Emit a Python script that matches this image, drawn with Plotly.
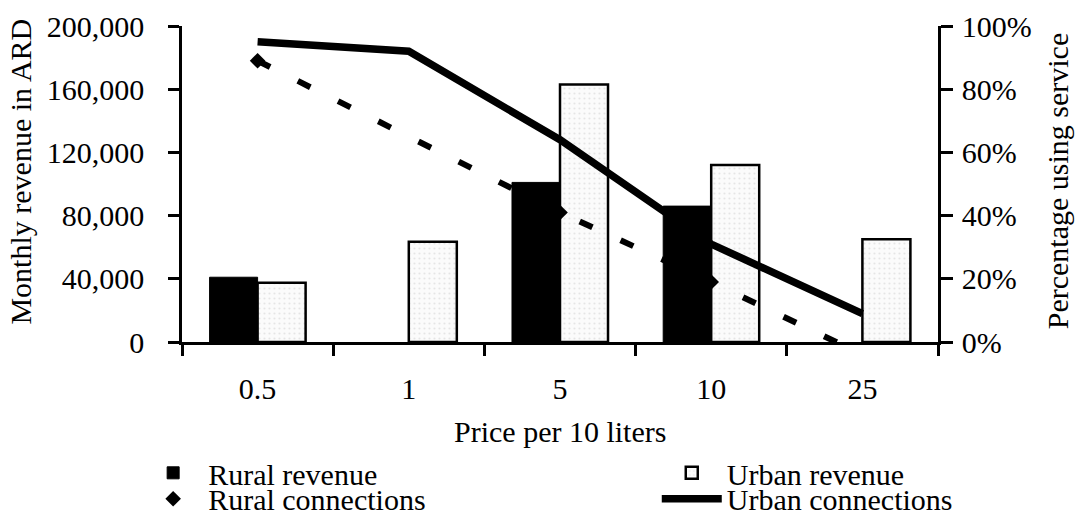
import plotly.graph_objects as go

# Price per 10 liters (category axis)
prices = ["0.5", "1", "5", "10", "25"]

# Monthly revenue in ARD
rural_revenue = [41000, None, 101000, 86000, None]
urban_revenue = [37500, 63500, 163000, 112000, 65000]

# Share of households using the service (%)
rural_connections = [89, None, 41, 19, -4]
urban_connections = [95, 92, 64, 31, 9]

revenue_ticks = [0, 40000, 80000, 120000, 160000, 200000]
share_ticks = [0, 20, 40, 60, 80, 100]
share_labels = [f"{v}%" for v in share_ticks]

FONT = "Liberation Serif"
INK = "black"

fig = go.Figure()

fig.add_trace(go.Bar(
    name="Rural revenue", x=prices, y=rural_revenue,
    marker=dict(color=INK, line=dict(color=INK, width=1)),
    legend="legend",
))
fig.add_trace(go.Bar(
    name="Urban revenue", x=prices, y=urban_revenue,
    marker=dict(color="#fbfbfb", line=dict(color=INK, width=2.5),
                pattern=dict(shape=".", fgcolor="#cfcfcf", bgcolor="#fbfbfb",
                             size=5, solidity=0.15)),
    legend="legend2",
))
fig.add_trace(go.Scatter(
    name="Rural connections (line)", x=prices, y=rural_connections,
    yaxis="y2", mode="lines", connectgaps=True, showlegend=False,
    line=dict(color=INK, width=6, dash="14px,31px"),
))
fig.add_trace(go.Scatter(
    name="Rural connections", x=prices, y=rural_connections,
    yaxis="y2", mode="markers",
    marker=dict(symbol="diamond", size=12, color=INK),
    legend="legend3",
))
fig.add_trace(go.Scatter(
    name="Urban connections", x=prices, y=urban_connections,
    yaxis="y2", mode="lines",
    line=dict(color=INK, width=7.5),
    legend="legend4",
))

tick_font = dict(family=FONT, size=30, color=INK)
legend_common = dict(
    orientation="v", xanchor="left", yanchor="middle",
    bgcolor="rgba(0,0,0,0)", borderwidth=0, itemwidth=60,
    font=dict(family=FONT, size=30, color=INK),
)
row1, row2 = -0.414, -0.496
col1, col2 = -0.058, 0.628

fig.update_layout(
    width=1075, height=517,
    margin=dict(l=182, r=137, t=26, b=175, autoexpand=False),
    paper_bgcolor="white", plot_bgcolor="white",
    font=dict(family=FONT, size=30, color=INK),
    barmode="group", bargap=0.365, bargroupgap=0,
    xaxis=dict(
        type="category", categoryorder="array", categoryarray=prices,
        range=[-0.5, 4.5], tickson="boundaries",
        ticks="outside", ticklen=11, tickwidth=2.5, tickcolor=INK,
        showline=True, linewidth=2.5, linecolor=INK, showgrid=False,
        tickfont=tick_font, ticklabelstandoff=18, anchor="y",
    ),
    xaxis2=dict(
        overlaying="x", anchor="y", side="bottom", type="linear",
        range=[-0.5, 4.5], tickvals=[-0.5, 0.5, 1.5, 2.5, 3.5, 4.5],
        ticks="inside", ticklen=11, tickwidth=2.5, tickcolor=INK,
        showticklabels=False, showline=False, showgrid=False, zeroline=False,
    ),
    yaxis=dict(
        range=[0, 200000], tickvals=revenue_ticks, tickformat=",d",
        ticks="outside", ticklen=11, tickwidth=2.5, tickcolor=INK,
        showline=True, linewidth=2.5, linecolor=INK,
        showgrid=False, zeroline=False, tickfont=tick_font,
        ticklabelstandoff=18,
    ),
    yaxis3=dict(
        overlaying="y", side="left", anchor="x",
        range=[0, 200000], tickvals=revenue_ticks,
        ticks="inside", ticklen=10, tickwidth=2.5, tickcolor=INK,
        showticklabels=False, showline=False, showgrid=False, zeroline=False,
    ),
    yaxis2=dict(
        overlaying="y", side="right", anchor="x",
        range=[0, 100], tickvals=share_ticks, ticktext=share_labels,
        ticks="outside", ticklen=12, tickwidth=2.5, tickcolor=INK,
        showline=True, linewidth=2.5, linecolor=INK,
        showgrid=False, zeroline=False, tickfont=tick_font,
        ticklabelstandoff=3,
    ),
    yaxis4=dict(
        overlaying="y", side="right", anchor="x",
        range=[0, 100], tickvals=share_ticks,
        ticks="inside", ticklen=8, tickwidth=2.5, tickcolor=INK,
        showticklabels=False, showline=False, showgrid=False, zeroline=False,
    ),
    legend=dict(x=col1, y=row1, **legend_common),
    legend2=dict(x=col2, y=row1, **legend_common),
    legend3=dict(x=col1, y=row2, **legend_common),
    legend4=dict(x=col2, y=row2, **legend_common),
    annotations=[
        dict(text="Monthly revenue in ARD", xref="paper", yref="paper",
             x=-0.214, y=0.54, xanchor="center", yanchor="middle",
             textangle=-90, showarrow=False, font=tick_font),
        dict(text="Percentage using service", xref="paper", yref="paper",
             x=1.158, y=0.51, xanchor="center", yanchor="middle",
             textangle=-90, showarrow=False, font=tick_font),
        dict(text="Price per 10 liters", xref="paper", yref="paper",
             x=0.5, y=-0.282, xanchor="center", yanchor="middle",
             showarrow=False, font=tick_font),
    ],
)

fig.write_html("out.html")
